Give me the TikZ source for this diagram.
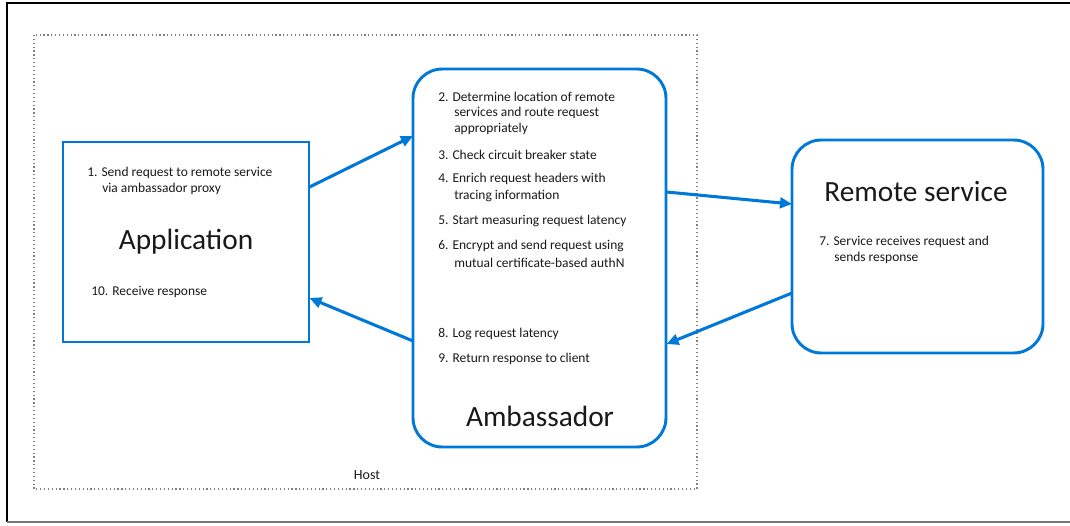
\documentclass[tikz,border=0pt]{standalone}
\usepackage{fontspec}
\setmainfont{Carlito}
\usetikzlibrary{arrows.meta}
\definecolor{azblue}{RGB}{0,120,215}
\definecolor{framegray}{RGB}{120,120,120}
\definecolor{txt}{RGB}{25,25,25}
\tikzset{
  box/.style={draw=azblue, line width=2.2pt, fill=white},
  rbox/.style={box, rounded corners=22pt},
  frame/.style={draw=none, inner sep=0pt, anchor=north west},
  step text/.style={anchor=west, inner sep=0pt, text=txt, font=\fontsize{10.1}{12}\selectfont},
  title/.style={inner sep=0pt, text=txt, font=\fontsize{22}{26}\selectfont},
  flow/.style={draw=azblue, line width=2.3pt, -{Triangle[length=9pt,width=8pt]}},
}
\begin{document}
\begin{tikzpicture}[x=0.75pt,y=-0.75pt]
\useasboundingbox (0,0) rectangle (1070,525);
% outer frame
\draw[line width=2.2pt, black] (7,522) -- (7,3) -- (1070,3);
\draw[line width=1.3pt, framegray] (7,522) -- (1070,522);
% host
\draw[dotted, line width=0.9pt, gray] (34,35) rectangle (697,489);
\node[inner sep=0pt, text=txt, font=\fontsize{10.5}{12}\selectfont] (host) at (367,475) {Host};
% boxes
\path[box] (63,142) rectangle (309,342);
\node[frame, minimum width=246*0.75pt, minimum height=200*0.75pt] (appn) at (63,142) {};
\path[rbox] (413,69) rectangle (666,447);
\node[frame, minimum width=253*0.75pt, minimum height=378*0.75pt] (amb) at (413,69) {};
\path[rbox] (792,140) rectangle (1043,353);
\node[frame, minimum width=251*0.75pt, minimum height=213*0.75pt] (rem) at (792,140) {};
% application texts
\node[step text] (a1) at (87,173) {1. Send request to remote service};
\node[step text] (a1b) at (102,189) {via ambassador proxy};
\node[title] (apptitle) at (186,242) {Application};
\node[step text] (a10) at (91,292) {10. Receive response};
% ambassador texts
\node[step text] (s2) at (438,97) {2. Determine location of remote};
\node[step text] (s2b) at (454,113) {services and route request};
\node[step text] (s2c) at (454,129) {appropriately};
\node[step text] (s3) at (438,155) {3. Check circuit breaker state};
\node[step text] (s4) at (438,179) {4. Enrich request headers with};
\node[step text] (s4b) at (454,196) {tracing information};
\node[step text] (s5) at (438,221) {5. Start measuring request latency};
\node[step text] (s6) at (438,246) {6. Encrypt and send request using};
\node[step text] (s6b) at (454,263) {mutual certificate-based authN};
\node[step text] (s8) at (438,334) {8. Log request latency};
\node[step text] (s9) at (438,359) {9. Return response to client};
\node[title] (ambtitle) at (540,416) {Ambassador};
% remote texts
\node[title] (remtitle) at (916,192) {Remote service};
\node[step text] (s7) at (819,242) {7. Service receives request and};
\node[step text] (s7b) at (834,258) {sends response};
% connectors
\draw[flow] (appn.north east |- 0,187) -- (amb.north west |- 0,136);
\draw[flow] (amb.north east |- 0,192) -- (rem.north west |- 0,204);
\draw[flow] (rem.north west |- 0,293) -- (amb.north east |- 0,344);
\draw[flow] (amb.north west |- 0,341) -- (appn.north east |- 0,298);
\end{tikzpicture}
\end{document}
